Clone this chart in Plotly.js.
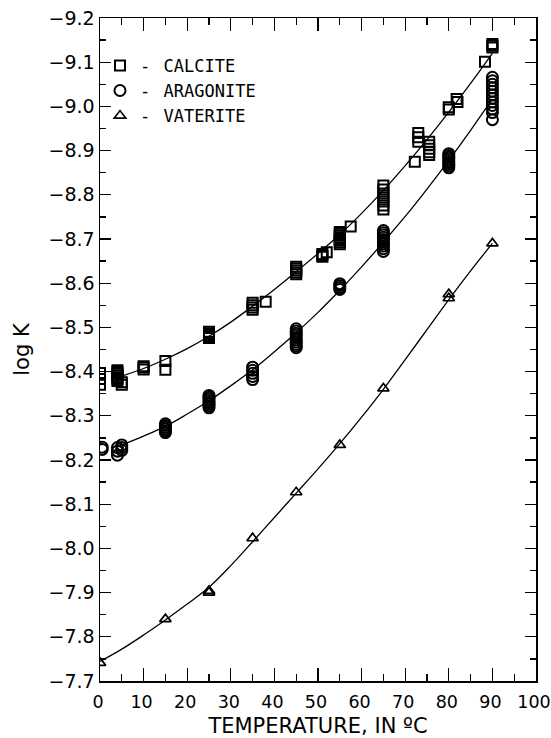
<!DOCTYPE html>
<html>
<head>
<meta charset="utf-8">
<script src="https://cdn.plot.ly/plotly-3.0.1.min.js"></script>
<style>html,body{margin:0;padding:0;background:#fff;}#chart{width:551px;height:738px;}</style>
</head>
<body>
<div id="chart"></div>
<script>
// ---- data ----
var calciteT = [0, 0, 0,
  4, 4, 4, 4, 4, 4, 4, 5, 5,
  10, 10, 10, 15, 15,
  25, 25, 25, 25, 25,
  35, 35, 35, 35, 38,
  45, 45, 45, 45, 45,
  51, 51, 51, 52,
  55, 55, 55, 55, 55, 55, 55, 55, 57.5,
  65, 65, 65, 65, 65, 65, 65,
  72.2, 73, 73, 73, 75.5, 75.5, 75.5, 75.5, 75.5,
  80, 80, 81.8, 82, 88.3, 90, 90, 90];
var calciteLogK = [-8.397, -8.383, -8.370,
  -8.403, -8.399, -8.395, -8.391, -8.387, -8.383, -8.379, -8.376, -8.370,
  -8.412, -8.409, -8.405, -8.424, -8.404,
  -8.490, -8.487, -8.483, -8.480, -8.476,
  -8.556, -8.550, -8.545, -8.540, -8.558,
  -8.637, -8.633, -8.629, -8.624, -8.620,
  -8.666, -8.663, -8.660, -8.670,
  -8.716, -8.712, -8.708, -8.704, -8.700, -8.696, -8.692, -8.688, -8.728,
  -8.821, -8.812, -8.803, -8.794, -8.785, -8.776, -8.767,
  -8.875, -8.940, -8.930, -8.920, -8.920, -8.912, -8.904, -8.896, -8.890,
  -8.998, -8.993, -9.017, -9.010, -9.101, -9.141, -9.137, -9.133];

var aragoniteT = [0.5, 0.5, 4, 4, 4, 5, 5, 5,
  15, 15, 15, 15, 15, 15,
  25, 25, 25, 25, 25, 25, 25, 25,
  35, 35, 35, 35, 35,
  45, 45, 45, 45, 45, 45, 45, 45, 45, 45,
  55, 55, 55, 55,
  65, 65, 65, 65, 65, 65, 65, 65, 65, 65,
  80, 80, 80, 80, 80, 80, 80, 80, 80,
  90, 90, 90, 90, 90, 90, 90, 90, 90, 90, 90, 90];
var aragoniteLogK = [-8.229, -8.224, -8.211, -8.220, -8.228, -8.234, -8.228, -8.222,
  -8.282, -8.278, -8.274, -8.270, -8.266, -8.262,
  -8.346, -8.342, -8.338, -8.334, -8.330, -8.326, -8.322, -8.318,
  -8.410, -8.403, -8.396, -8.389, -8.382,
  -8.497, -8.492, -8.487, -8.482, -8.477, -8.472, -8.467, -8.462, -8.458, -8.454,
  -8.599, -8.595, -8.590, -8.586,
  -8.719, -8.714, -8.709, -8.704, -8.699, -8.694, -8.689, -8.684, -8.678, -8.672,
  -8.893, -8.889, -8.885, -8.881, -8.877, -8.873, -8.869, -8.865, -8.861,
  -9.066, -9.058, -9.050, -9.042, -9.034, -9.026, -9.018, -9.010, -9.002, -8.994, -8.986, -8.970];

var vateriteT = [0, 15, 25, 25, 35, 45, 55, 65, 80, 80, 90];
var vateriteLogK = [-7.741, -7.840, -7.904, -7.900, -8.023, -8.127, -8.234, -8.362, -8.575, -8.566, -8.690];

// fitted curves
var fitT = [5, 10, 15, 20, 25, 30, 35, 40, 45, 50, 55, 60, 65, 70, 75, 80, 85, 90];
var calciteFit = [-8.390, -8.407, -8.428, -8.452, -8.480, -8.512, -8.548, -8.586, -8.626, -8.667, -8.710, -8.758, -8.810, -8.866, -8.925, -8.987, -9.052, -9.120];
var aragoniteFit = [-8.234, -8.254, -8.276, -8.304, -8.334, -8.368, -8.404, -8.445, -8.488, -8.534, -8.584, -8.637, -8.693, -8.751, -8.813, -8.878, -8.946, -9.017];
var vateriteFitT = [0, 5, 10, 15, 20, 25, 30, 35, 40, 45, 50, 55, 60, 65, 70, 75, 80, 85, 90];
var vateriteFit = [-7.744, -7.772, -7.804, -7.838, -7.874, -7.912, -7.961, -8.015, -8.070, -8.125, -8.180, -8.237, -8.297, -8.360, -8.427, -8.495, -8.563, -8.628, -8.690];

// axis ticks
var xTickVals = [0, 10, 20, 30, 40, 50, 60, 70, 80, 90, 100];
var xTickText = ['0', '10', '20', '30', '40', '50', '60', '70', '80', '90', '100'];

var legendNames = ['- <span style="font-size:5px"> </span>CALCITE',
                   '- <span style="font-size:5px"> </span>ARAGONITE',
                   '- <span style="font-size:5px"> </span>VATERITE'];
var xTitle = 'TEMPERATURE, IN ºC';
var yTitle = 'log K';

// ---- traces ----
var lineStyle = {color: '#000', width: 1.3, shape: 'spline'};
var traces = [
  {x: fitT, y: calciteFit, mode: 'lines', line: lineStyle, showlegend: false, hoverinfo: 'skip'},
  {x: fitT, y: aragoniteFit, mode: 'lines', line: lineStyle, showlegend: false, hoverinfo: 'skip'},
  {x: vateriteFitT, y: vateriteFit, mode: 'lines', line: lineStyle, showlegend: false, hoverinfo: 'skip'},
  {x: calciteT, y: calciteLogK, mode: 'markers', name: legendNames[0],
   marker: {symbol: 'square-open', size: 10, color: '#000', line: {width: 2, color: '#000'}}},
  {x: aragoniteT, y: aragoniteLogK, mode: 'markers', name: legendNames[1],
   marker: {symbol: 'circle-open', size: 11, color: '#000', line: {width: 2, color: '#000'}}},
  {x: vateriteT, y: vateriteLogK, mode: 'markers', name: legendNames[2],
   marker: {symbol: 'triangle-up-open', size: 10, color: '#000', line: {width: 1.7, color: '#000'}}}
];

var layout = {
  width: 551, height: 738,
  margin: {l: 100, r: 15, t: 18, b: 57},
  paper_bgcolor: '#fff', plot_bgcolor: '#fff',
  font: {family: 'DejaVu Sans', color: '#000'},
  showlegend: true,
  legend: {x: 0.0, y: 0.955, xanchor: 'left', yanchor: 'top', bgcolor: 'rgba(0,0,0,0)',
           font: {family: 'DejaVu Sans Mono', size: 17, color: '#000'}, traceorder: 'normal'},
  xaxis: {
    range: [0, 100], tickmode: 'array', tickvals: xTickVals, ticktext: xTickText,
    ticks: 'inside', ticklen: 13, tickwidth: 1.3, tickcolor: '#000',
    minor: {dtick: 5, ticks: 'inside', ticklen: 7, tickwidth: 1.3, tickcolor: '#000'},
    showline: true, linewidth: 1.5, linecolor: '#000', mirror: 'ticks',
    showgrid: false, zeroline: false, ticklabeloverflow: 'allow', ticklabelstandoff: 4, ticklabelshift: -2,
    tickfont: {family: 'DejaVu Sans', size: 17.5, color: '#000'},
    title: {text: xTitle, font: {family: 'DejaVu Sans', size: 21, color: '#000'}, standoff: 9}
  },
  yaxis: {
    range: [-7.7, -9.2], tick0: -9.2, dtick: 0.1, tickformat: '.1f', ticks: 'inside', ticklen: 11, tickwidth: 1.3, tickcolor: '#000',
    minor: {dtick: 0.05, ticks: 'inside', ticklen: 6, tickwidth: 1.3, tickcolor: '#000'},
    showline: true, linewidth: 1.5, linecolor: '#000', mirror: 'ticks',
    showgrid: false, zeroline: false,
    tickfont: {family: 'DejaVu Sans', size: 19, color: '#000'},
    title: {text: yTitle, font: {family: 'DejaVu Sans', size: 21, color: '#000'}, standoff: 13}
  }
};

Plotly.newPlot('chart', traces, layout, {displayModeBar: false, staticPlot: true});
</script>
</body>
</html>
